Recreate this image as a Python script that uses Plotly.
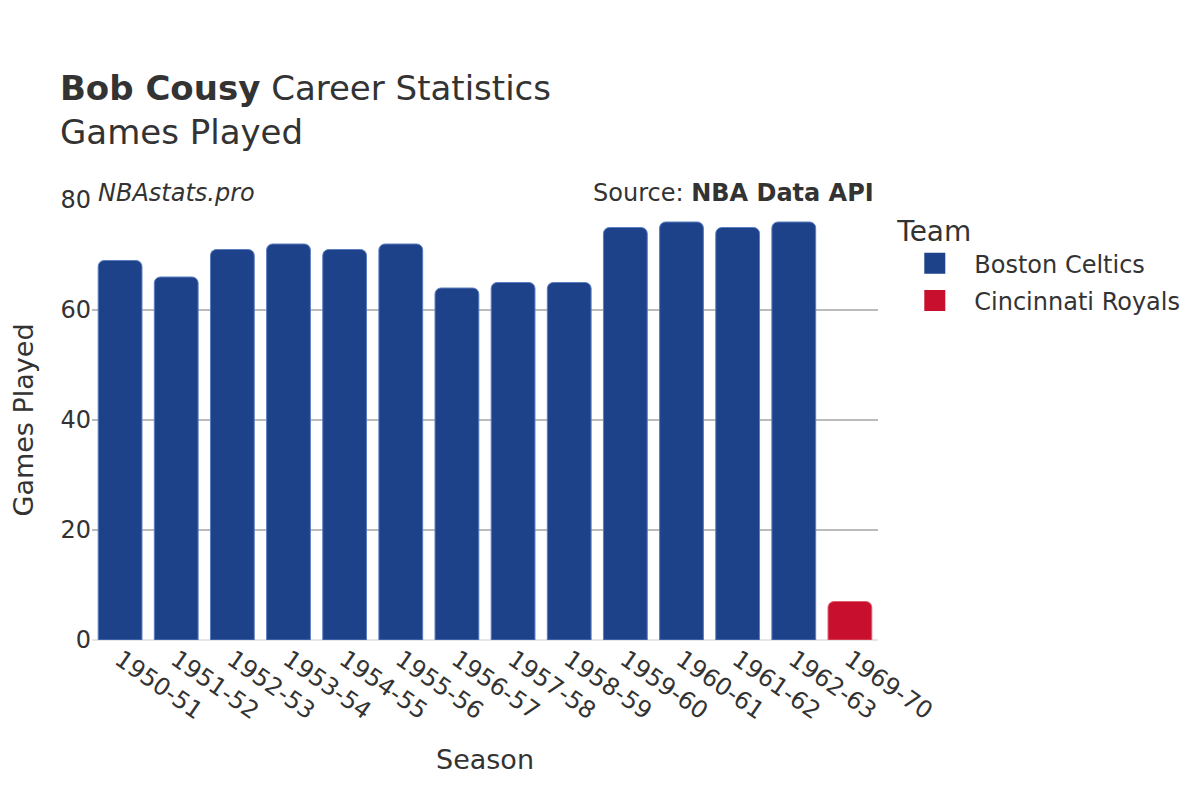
import plotly.graph_objects as go

seasons_bos = ["1950-51", "1951-52", "1952-53", "1953-54", "1954-55", "1955-56",
               "1956-57", "1957-58", "1958-59", "1959-60", "1960-61", "1961-62", "1962-63"]
games_bos = [69, 66, 71, 72, 71, 72, 64, 65, 65, 75, 76, 75, 76]
seasons_cin = ["1969-70"]
games_cin = [7]
all_seasons = seasons_bos + seasons_cin

FONT = "DejaVu Sans"
BOS = "#1D428A"
CIN = "#C8102E"

fig = go.Figure()
fig.add_trace(go.Bar(x=seasons_bos, y=games_bos, name="Boston Celtics",
                     legendgroup="bos", showlegend=False,
                     marker=dict(color=BOS, line=dict(color="#5a7ec0", width=1))))
fig.add_trace(go.Bar(x=seasons_cin, y=games_cin, name="Cincinnati Royals",
                     legendgroup="cin", showlegend=False,
                     marker=dict(color=CIN, line=dict(color="#e06070", width=1))))
# legend entries (larger swatches)
fig.add_trace(go.Scatter(x=[None], y=[None], mode="markers", name="Boston Celtics",
                         legendgroup="bos", showlegend=True,
                         marker=dict(symbol="square", size=16, color=BOS,
                                     line=dict(color=BOS, width=5))))
fig.add_trace(go.Scatter(x=[None], y=[None], mode="markers", name="Cincinnati Royals",
                         legendgroup="cin", showlegend=True,
                         marker=dict(symbol="square", size=16, color=CIN,
                                     line=dict(color=CIN, width=5))))

fig.update_layout(
    width=1200, height=800,
    barmode="relative", bargap=0.22, barcornerradius=6,
    paper_bgcolor="white", plot_bgcolor="white",
    font=dict(family=FONT, color="#333", size=24),
    margin=dict(l=84, r=330, t=192, b=168, autoexpand=False),
    title=dict(
        text="<b>Bob Cousy</b> Career Statistics<br>Games Played",
        x=0.0433, xanchor="left", y=0.885, yanchor="top",
        font=dict(family=FONT, size=34, color="#333"),
    ),
    legend=dict(
        title=dict(text="Team", font=dict(size=28)),
        x=1.022, xanchor="left", y=0.989, yanchor="top",
        font=dict(size=24), itemsizing="trace", itemwidth=69,
        tracegroupgap=3,
    ),
    xaxis=dict(
        title=dict(text="Season", font=dict(size=27), standoff=25),
        categoryorder="array", categoryarray=all_seasons,
        tickangle=35, tickfont=dict(size=24), showgrid=False, automargin=False,
    ),
    yaxis=dict(
        title=dict(text="Games Played", font=dict(size=27), standoff=38),
        range=[0, 80], dtick=20, tickfont=dict(size=24), automargin=True,
        showgrid=True, gridcolor="#bbbbbb", gridwidth=1.5,
        zeroline=True, zerolinecolor="#e6e6e6", zerolinewidth=2,
    ),
    annotations=[
        dict(text="<i>NBAstats.pro</i>", xref="paper", yref="paper", x=0.005, y=0.98,
             xanchor="left", yanchor="bottom", showarrow=False,
             font=dict(size=24, color="#333")),
        dict(text="Source: <b>NBA Data API</b>", xref="paper", yref="paper", x=0.997, y=0.98,
             xanchor="right", yanchor="bottom", showarrow=False,
             font=dict(size=24, color="#333")),
    ],
)

fig.write_html("out.html")
